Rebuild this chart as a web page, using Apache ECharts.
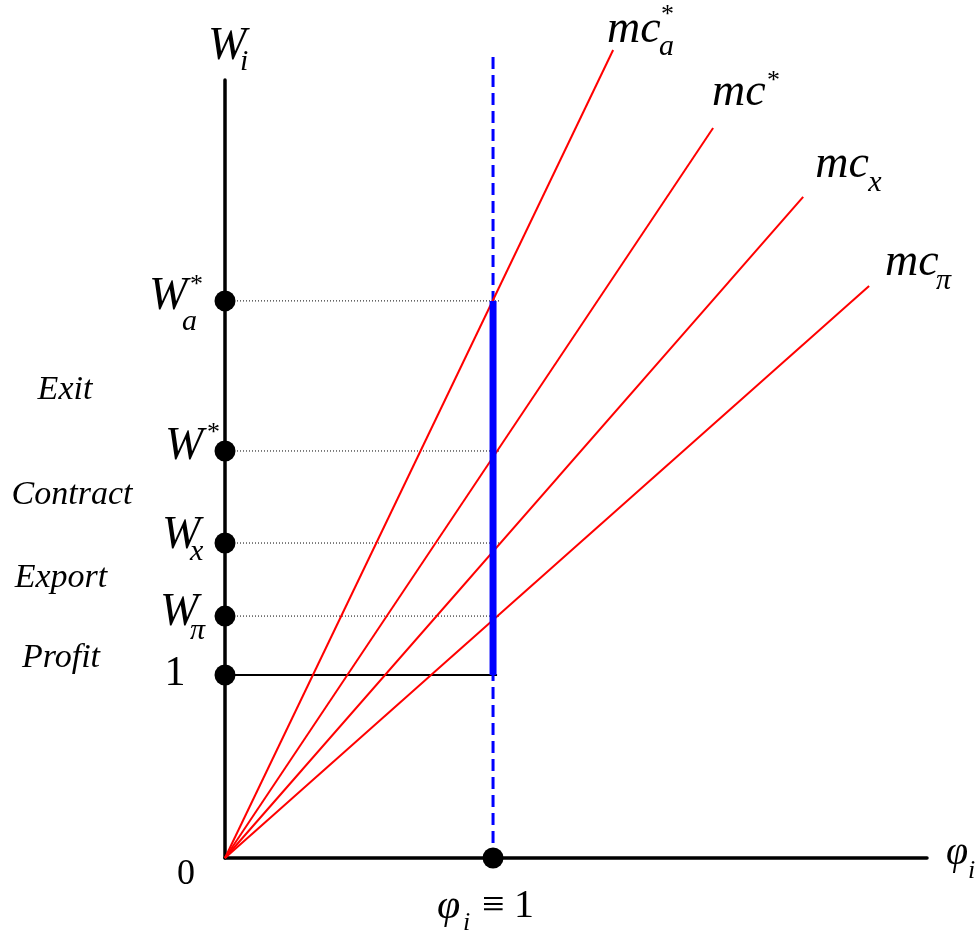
<!DOCTYPE html>
<html>
<head>
<meta charset="utf-8">
<script src="https://cdn.jsdelivr.net/npm/echarts@6/dist/echarts.min.js"></script>
<style>
  html, body { margin: 0; padding: 0; background: #ffffff; }
  #chart { width: 979px; height: 933px; }
</style>
</head>
<body>
<div id="chart"></div>
<script>
// Wage thresholds on the vertical axis (W_i)
const levelNames = ['Wa*', 'W*', 'Wx', 'Wpi', 'one'];
const levelValues = [3.044, 2.224, 1.721, 1.322, 1];
const phiUnit = 1;
// Marginal-cost rays through the origin, given by their end points
const rayNames = ['mc_a*', 'mc*', 'mc_x', 'mc_pi'];
const rayEndX = [1.448, 1.821, 2.157, 2.403];
const rayEndY = [4.415, 3.989, 3.612, 3.126];
// Axis extents and the top of the dashed guide at phi = 1
const xMax = 2.619;
const yMax = 4.251;
const dashTop = 4.377;
// Regions between consecutive thresholds, top to bottom
const regionLabels = ['Exit', 'Contract', 'Export', 'Profit'];

const SERIF = '"Liberation Serif", "Times New Roman", serif';
const chart = echarts.init(document.getElementById('chart'), null, { renderer: 'canvas' });

const plain = { symbol: 'none', clip: false, silent: true, animation: false };

const series = [];

// dotted guides from each threshold across to phi = 1
levelValues.slice(0, 4).forEach((v, i) => {
  series.push(Object.assign({
    type: 'line', name: 'guide-' + levelNames[i],
    data: [[0, v], [phiUnit + 0.026, v]],
    lineStyle: { color: '#000000', width: 1, type: [1, 2] }, z: 2
  }, plain));
});

// solid line at W = 1
series.push(Object.assign({
  type: 'line', name: 'unit',
  data: [[0, levelValues[4]], [phiUnit + 0.015, levelValues[4]]],
  lineStyle: { color: '#000000', width: 2 }, z: 2
}, plain));

// dashed vertical at phi = 1
series.push(Object.assign({
  type: 'line', name: 'phi-one',
  data: [[phiUnit, dashTop], [phiUnit, 0]],
  lineStyle: { color: '#0000ff', width: 3, type: [12, 6] }, z: 3
}, plain));

// marginal-cost rays
rayNames.forEach((n, i) => {
  series.push(Object.assign({
    type: 'line', name: n,
    data: [[0, 0], [rayEndX[i], rayEndY[i]]],
    lineStyle: { color: '#ff0000', width: 2 }, z: 4
  }, plain));
});

// thick segment between W = 1 and the highest threshold
series.push(Object.assign({
  type: 'line', name: 'band',
  data: [[phiUnit, levelValues[4]], [phiUnit, levelValues[0]]],
  lineStyle: { color: '#0000ff', width: 7, cap: 'butt' }, z: 5
}, plain));

// threshold markers on the axes
series.push({
  type: 'scatter', name: 'markers',
  data: levelValues.map(v => [0, v]).concat([[phiUnit, 0]]),
  symbol: 'circle', symbolSize: 21,
  itemStyle: { color: '#000000', opacity: 1 },
  clip: false, silent: true, animation: false, z: 10
});

chart.setOption({
  animation: false,
  backgroundColor: '#ffffff',
  grid: { left: 225, top: 80, width: 702, height: 778, containLabel: false },
  xAxis: {
    type: 'value', min: 0, max: xMax,
    axisLine: { show: true, onZero: false, lineStyle: { color: '#000000', width: 3.5 } },
    axisTick: { show: false }, axisLabel: { show: false }, splitLine: { show: false }
  },
  yAxis: {
    type: 'value', min: 0, max: yMax,
    axisLine: { show: true, onZero: false, lineStyle: { color: '#000000', width: 3.5 } },
    axisTick: { show: false }, axisLabel: { show: false }, splitLine: { show: false }
  },
  series: series
});

// ---- math-style text labels, placed relative to points on the axes ----
const px = (x, y) => chart.convertToPixel({ gridIndex: 0 }, [x, y]);

function piece(text, ax, ay, dx, dy, size, italic, align) {
  return {
    type: 'text', x: ax + dx, y: ay + dy, z: 30, silent: true,
    style: {
      text: text,
      font: (italic === false ? '' : 'italic ') + size + 'px ' + SERIF,
      fill: '#000000',
      align: align || 'left', textAlign: align || 'left',
      verticalAlign: 'middle', textVerticalAlign: 'middle'
    }
  };
}

const graphics = [];
function label(anchor, parts) {
  parts.forEach(p => graphics.push(piece(p[0], anchor[0], anchor[1], p[1], p[2], p[3], p[4], p[5])));
}

// axis titles
label(px(0, yMax), [['W', -17, -33, 46], ['i', 15, -18, 30]]);
label(px(xMax, 0), [['\u03C6', 19, -5, 40], ['i', 41, 13, 26]]);
label(px(0, 0), [['0', -39, 17, 36, false, 'center']]);
label(px(phiUnit, 0), [['\u03C6', -56, 49, 42], ['i', -30, 65, 26], ['\u2261', -11, 48, 40, false], ['1', 21, 48, 40, false]]);

// threshold names beside the markers
const levelParts = [
  [['W', -76, -4, 46], ['a', -43, 21, 30], ['*', -35, -16, 26, false]],
  [['W', -60, -4, 46], ['*', -18, -18, 26, false]],
  [['W', -63, -7, 46], ['x', -35, 9, 30]],
  [['W', -65, -3, 46], ['\u03C0', -35, 15, 30]],
  [['1', -50, -1, 42, false, 'center']]
];
levelValues.forEach((v, i) => label(px(0, v), levelParts[i]));

// ray names at the ray ends
const rayParts = [
  [['mc', -6, -20, 46], ['a', 46, -3, 30], ['*', 48, -35, 26, false]],
  [['mc', -1, -35, 46], ['*', 54, -47, 26, false]],
  [['mc', 12, -32, 46], ['x', 65, -14, 30]],
  [['mc', 16, -23, 46], ['\u03C0', 67, -5, 30]]
];
rayNames.forEach((n, i) => label(px(rayEndX[i], rayEndY[i]), rayParts[i]));

// region names, centred between consecutive thresholds
const regionX = [65, 72, 61, 61];
const regionDy = [14, -2, -1, 13];
regionLabels.forEach((t, i) => {
  const yTop = px(0, levelValues[i])[1];
  const yBot = px(0, levelValues[i + 1])[1];
  graphics.push(piece(t, regionX[i], (yTop + yBot) / 2, 0, regionDy[i], 34, true, 'center'));
});

chart.setOption({ graphic: graphics });
</script>
</body>
</html>
